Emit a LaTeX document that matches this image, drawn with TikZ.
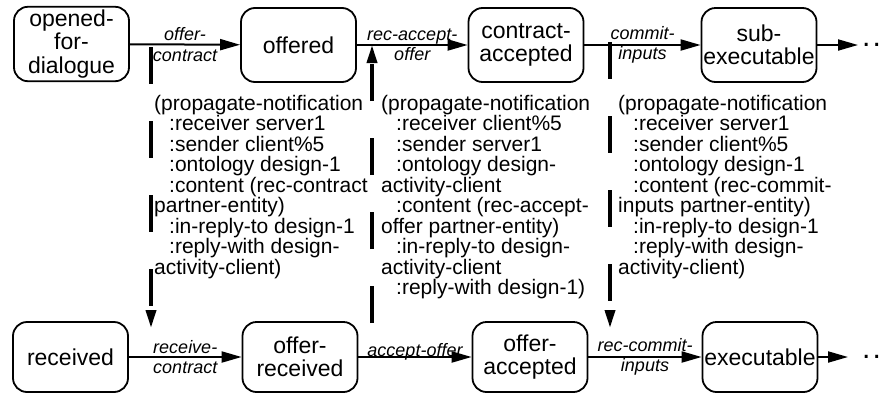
\documentclass[tikz,border=0pt]{standalone}
\usepackage{fontspec}
\setmainfont{Liberation Sans}
\usetikzlibrary{arrows.meta}
\newcommand{\ind}{\hspace*{15pt}}

\begin{document}
\begin{tikzpicture}[x=1pt,y=1pt,font=\fontsize{23}{23.5}\selectfont]
  \tikzstyle{statenode}=[draw, line width=1.8pt, rounded corners=14pt, minimum width=115pt, minimum height=74pt, align=center, inner xsep=1.5pt, inner ysep=3pt]
  \tikzstyle{transition}=[line width=2pt, -{Triangle[length=20pt,width=11pt]}]
  \tikzstyle{translabel}=[font=\fontsize{18}{20.5}\selectfont\itshape, align=center, inner sep=0pt]
  \tikzstyle{msgline}=[line width=3.5pt, dash pattern=on 37pt off 37pt, -{Triangle[length=18pt,width=10pt]}]
  \tikzstyle{msgtext}=[font=\fontsize{21}{20.5}\selectfont, align=left, anchor=north west, inner sep=0pt]
  \useasboundingbox (0,0) rectangle (885,-394);
  \node[statenode] (opened) at (71.5,-44) {opened-\\for-\\dialogue};
  \node[statenode] (offered) at (298.5,-45) {offered};
  \node[statenode] (conacc) at (526,-45) {contract-\\accepted};
  \node[statenode] (subexec) at (759,-45) {sub-\\executable};
  \node[statenode, minimum height=70pt] (received) at (70.5,-357) {received};
  \node[statenode, minimum height=70pt] (offrec) at (300,-357) {offer-\\received};
  \node[statenode, minimum height=70pt] (offacc) at (530,-357) {offer-\\accepted};
  \node[statenode, minimum height=70pt] (exec) at (760,-357) {executable};
  \coordinate (topend) at (858,-45);
  \coordinate (botend) at (848,-357);
  \node[font=\fontsize{30}{30}\selectfont, anchor=west, inner sep=0pt] (topdots) at (862,-45) {.\kern2pt.};
  \node[font=\fontsize{30}{30}\selectfont, anchor=west, inner sep=0pt] (botdots) at (862,-357) {.\kern2pt.};
  \draw[transition] (opened) -- (offered) node[midway, translabel] {offer-\\contract};
  \draw[transition] (offered) -- (conacc) node[midway, translabel] {rec-accept-\\offer};
  \draw[transition] (conacc) -- (subexec) node[midway, translabel] {commit-\\inputs};
  \draw[transition] (subexec) -- (topend);
  \draw[transition] (received) -- (offrec) node[midway, translabel] {receive-\\contract};
  \draw[transition] (offrec) -- (offacc) node[midway, translabel, anchor=base, yshift=1pt] {accept-offer};
  \draw[transition] (offacc) -- (exec) node[midway, translabel] {rec-commit-\\inputs};
  \draw[transition] (exec) -- (botend);
  \coordinate (msgatop) at (151,-47);
  \coordinate (msgabot) at (151,-328);
  \coordinate (msgbbot) at (372,-323);
  \coordinate (msgbtop) at (372,-45);
  \coordinate (msgctop) at (610,-42);
  \coordinate (msgcbot) at (610,-328);
  \draw[msgline] (msgatop) -- (msgabot);
  \draw[msgline] (msgbbot) -- (msgbtop);
  \draw[msgline] (msgctop) -- (msgcbot);
  \node[msgtext] (msga) at (154,-95) {(propagate-notification\\
    \ind:receiver server1\\
    \ind:sender client\%5\\
    \ind:ontology design-1\\
    \ind:content (rec-contract\\
    partner-entity)\\
    \ind:in-reply-to design-1\\
    \ind:reply-with design-\\
    activity-client)};
  \node[msgtext] (msgb) at (381,-95) {(propagate-notification\\
    \ind:receiver client\%5\\
    \ind:sender server1\\
    \ind:ontology design-\\
    activity-client\\
    \ind:content (rec-accept-\\
    offer partner-entity)\\
    \ind:in-reply-to design-\\
    activity-client\\
    \ind:reply-with design-1)};
  \node[msgtext] (msgc) at (618,-95) {(propagate-notification\\
    \ind:receiver server1\\
    \ind:sender client\%5\\
    \ind:ontology design-1\\
    \ind:content (rec-commit-\\
    inputs partner-entity)\\
    \ind:in-reply-to design-1\\
    \ind:reply-with design-\\
    activity-client)};
\end{tikzpicture}
\end{document}
